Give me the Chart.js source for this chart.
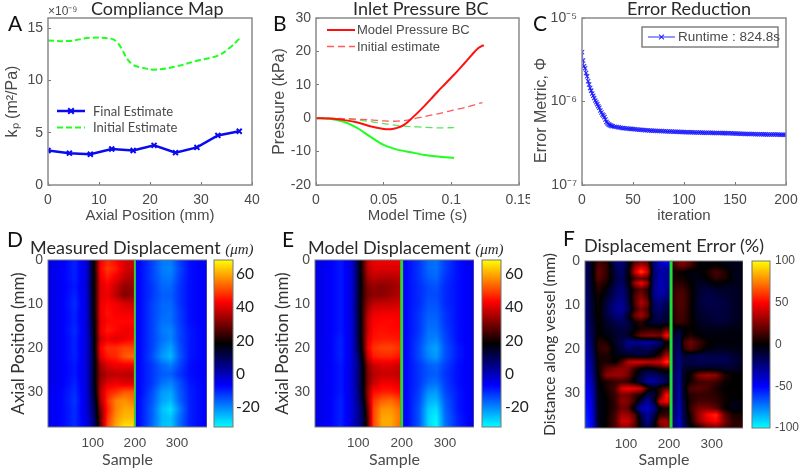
<!DOCTYPE html>
<html>
<head>
<meta charset="utf-8">
<title>Model fit panels</title>
<script src="https://cdn.jsdelivr.net/npm/chart.js@4"></script>
<style>
  html, body { margin: 0; padding: 0; background: #fff; overflow: hidden; }
  #page { position: relative; width: 800px; height: 469px; overflow: hidden; }
  canvas { position: absolute; }
  .cap { position: absolute; white-space: nowrap; transform: translateY(-50%); line-height: 1; color: #222; font-family: Lato, sans-serif; }
  .letter { font-size: 21px; color: #111; }
  .title { font-size: 18px; color: #2a2a2a; }
  .title i { font-family: "Liberation Serif", serif; font-size: 15px; }
</style>
</head>
<body>
<div id="page"></div>
<script>
// ---- Panel A: compliance map ----
const finalX = [0, 4.2, 8.3, 12.5, 16.7, 20.8, 25, 29.2, 33.3, 37.5];
const finalK = [3.3, 3.05, 2.95, 3.45, 3.3, 3.8, 3.1, 3.6, 4.75, 5.15];
const initialX = [0, 4.2, 8.3, 12.5, 13.5, 14.5, 15.5, 16.7, 18, 20.8, 25, 29.2, 33.3, 35.5, 37.5];
const initialK = [13.85, 13.8, 14.1, 14.0, 13.7, 13.0, 12.1, 11.5, 11.3, 11.05, 11.35, 11.9, 12.4, 13.1, 14.0];

// ---- Panel B: inlet pressure ----
const modelT = [0, 0.01, 0.02, 0.03, 0.04, 0.05, 0.055, 0.06, 0.065, 0.07, 0.075, 0.08, 0.085, 0.09, 0.095, 0.1, 0.105, 0.11, 0.115, 0.12, 0.124];
const modelP = [0, -0.1, -0.5, -1.2, -2.4, -3.2, -3.3, -2.9, -2, -0.3, 1.6, 3.6, 5.8, 8, 10.1, 12.2, 14.3, 16.6, 18.9, 21, 21.9];
const initT = [0, 0.02, 0.04, 0.05, 0.06, 0.07, 0.08, 0.09, 0.1, 0.11, 0.123];
const initP = [0, -0.1, -0.5, -0.8, -0.9, -0.4, 0.5, 1.3, 2.3, 3.2, 4.7];
const greenT = [0, 0.01, 0.02, 0.03, 0.04, 0.05, 0.06, 0.07, 0.08, 0.09, 0.102];
const greenP = [0, -0.2, -1, -2.8, -5.5, -8, -9.4, -10.2, -11, -11.5, -11.9];
const greenInitT = [0, 0.02, 0.03, 0.04, 0.05, 0.06, 0.07, 0.08, 0.09, 0.102];
const greenInitP = [0, -0.2, -0.5, -1, -1.6, -2.2, -2.5, -2.7, -2.9, -2.8];

// ---- Panel C: error metric (nilai dalam 1e-6) ----
const errorIter = [0,1,2,3,4,5,6,7,8,9,10,11,12,13,14,15,16,17,18,19,20,21,22,23,24,25,26,27,28,29,30,
  32,34,36,38,40,42,44,46,48,50,52,54,56,58,60,62,64,66,68,70,72,74,76,78,80,82,84,86,88,90,92,94,96,98,100,
  102,104,106,108,110,112,114,116,118,120,122,124,126,128,130,132,134,136,138,140,142,144,146,148,150,
  152,154,156,158,160,162,164,166,168,170,172,174,176,178,180,182,184,186,188,190,192,194,196,198,200];
const errorVal = [3.9,3.1,2.65,2.5,2.2,2.0,1.75,1.6,1.45,1.35,1.25,1.17,1.1,1.03,0.98,0.93,0.88,0.84,0.78,0.74,0.7,0.68,0.65,0.61,0.57,0.55,0.535,0.525,0.515,0.51,0.505,
  0.5,0.495,0.49,0.485,0.48,0.478,0.475,0.472,0.47,0.468,0.465,0.463,0.46,0.458,0.455,0.453,0.452,0.45,0.448,0.447,0.445,0.444,0.443,0.442,0.44,0.439,0.438,0.437,0.436,0.435,0.434,0.433,0.432,0.431,0.43,
  0.429,0.428,0.428,0.427,0.426,0.426,0.425,0.425,0.424,0.423,0.423,0.422,0.422,0.421,0.42,0.42,0.419,0.419,0.418,0.418,0.417,0.417,0.416,0.415,0.414,
  0.413,0.412,0.411,0.41,0.409,0.408,0.408,0.407,0.407,0.406,0.406,0.405,0.405,0.404,0.404,0.403,0.403,0.403,0.402,0.402,0.402,0.401,0.401,0.4,0.4];

// ---- Panels D, E: displacement (baris = posisi aksial, kolom = sample) ----
const depthRows = [0,2,4,6,8,10,12,14,16,18,20,22,24,26,28,30,32,34,36,38];
const measuredCols = [-7,25,58,85,98,108,118,135,155,175,198,202,215,240,265,285,305,330,371];
const measuredGrid = [
  [-4,-6,-10,-3,12,26,42,47,44,40,38,-6,-8,-13,-19,-19,-13,-8,-6],
  [-4,-6,-10,-3,12,26,43,49,46,40,37,-6,-8,-13,-19,-20,-14,-8,-6],
  [-4,-6,-10,-3,12,25,41,46,42,37,35,-6,-8,-13,-18,-19,-13,-8,-6],
  [-4,-6,-9,-3,13,25,40,43,38,33,33,-6,-8,-12,-17,-17,-12,-8,-6],
  [-4,-6,-10,-3,12,25,40,42,37,31,33,-6,-8,-12,-16,-16,-12,-8,-6],
  [-4,-6,-11,-3,12,25,41,44,42,40,38,-6,-8,-13,-17,-17,-12,-8,-6],
  [-4,-6,-10,-3,12,25,41,45,43,42,42,-6,-8,-13,-17,-18,-13,-8,-6],
  [-4,-6,-10,-3,11,24,40,44,44,44,44,-6,-8,-13,-18,-18,-13,-8,-6],
  [-4,-6,-11,-3,10,24,41,46,44,42,42,-6,-8,-13,-19,-20,-14,-9,-6],
  [-4,-6,-10,-3,9,23,38,42,40,42,44,-6,-8,-13,-18,-20,-14,-9,-6],
  [-4,-6,-10,-3,9,24,42,48,48,50,50,-6,-8,-13,-20,-23,-15,-9,-6],
  [-4,-6,-10,-3,8,22,40,46,47,52,54,-6,-8,-14,-22,-25,-16,-9,-6],
  [-4,-6,-9,-3,9,21,34,40,42,42,42,-6,-8,-12,-17,-19,-14,-8,-6],
  [-4,-6,-9,-3,9,21,32,36,37,37,36,-6,-8,-12,-16,-16,-12,-8,-6],
  [-4,-6,-10,-3,9,21,34,40,42,40,40,-6,-8,-12,-18,-20,-15,-9,-6],
  [-5,-7,-11,-3,8,20,36,46,48,52,52,-6,-8,-14,-22,-23,-16,-10,-6],
  [-5,-7,-12,-3,7,17,34,48,56,58,55,-6,-9,-15,-23,-25,-17,-10,-6],
  [-5,-7,-11,-3,6,15,30,46,56,60,60,-6,-9,-16,-26,-29,-20,-10,-6],
  [-5,-7,-11,-4,4,13,28,48,58,62,62,-6,-9,-16,-25,-26,-18,-10,-6],
  [-5,-7,-11,-4,3,12,28,50,60,66,66,-6,-9,-17,-26,-27,-18,-10,-6]
];
const modelCols = [0,30,60,85,100,112,122,135,155,175,196,203,215,240,262,280,300,330,367];
const modelGrid = [
  [-4,-6,-9,-3,12,26,38,42,42,42,42,-6,-8,-12,-17,-18,-13,-8,-5],
  [-4,-6,-9,-3,12,26,37,40,40,40,40,-6,-8,-12,-17,-18,-13,-8,-5],
  [-4,-6,-9,-3,12,25,34,37,36,36,37,-6,-8,-12,-16,-17,-12,-8,-5],
  [-4,-6,-9,-3,12,24,31,33,32,33,35,-6,-8,-11,-14,-15,-11,-8,-5],
  [-4,-6,-9,-3,12,24,30,32,32,34,36,-6,-8,-11,-14,-14,-11,-8,-5],
  [-4,-6,-9,-3,12,25,33,37,38,38,39,-6,-8,-11,-15,-15,-11,-8,-5],
  [-4,-6,-9,-3,12,26,36,41,42,42,42,-6,-8,-12,-16,-16,-12,-8,-5],
  [-4,-6,-9,-3,11,26,38,43,44,44,43,-6,-8,-12,-17,-17,-12,-8,-5],
  [-4,-6,-9,-3,11,26,38,44,45,44,44,-6,-8,-12,-18,-18,-13,-8,-5],
  [-4,-6,-10,-3,11,26,40,45,46,46,45,-6,-8,-13,-19,-20,-14,-8,-5],
  [-4,-6,-10,-3,10,25,42,48,50,50,48,-6,-8,-14,-21,-23,-15,-9,-5],
  [-4,-6,-10,-3,8,22,38,46,47,47,45,-6,-8,-14,-20,-22,-15,-9,-5],
  [-4,-6,-9,-3,6,19,32,38,40,40,38,-6,-8,-12,-16,-17,-13,-8,-5],
  [-4,-6,-9,-3,7,18,30,36,38,38,37,-6,-8,-12,-15,-16,-12,-8,-5],
  [-4,-6,-9,-3,7,18,31,38,42,42,40,-6,-8,-12,-17,-18,-13,-8,-5],
  [-4,-6,-9,-3,6,18,33,44,46,46,44,-6,-8,-13,-21,-22,-14,-9,-5],
  [-4,-6,-10,-3,5,16,32,48,53,54,50,-6,-8,-14,-24,-25,-16,-9,-5],
  [-4,-6,-10,-3,4,13,28,50,58,58,54,-6,-8,-15,-27,-29,-17,-9,-5],
  [-4,-6,-10,-3,4,12,27,50,60,60,55,-6,-8,-15,-28,-31,-18,-10,-5],
  [-4,-6,-10,-3,3,11,26,50,60,60,54,-6,-8,-15,-28,-32,-18,-10,-5]
];

// ---- Panel F: displacement error ----
const errorRows = [0,1,2.5,4,5,6.5,8,9.5,11,12.5,14,15.5,17,18.5,20,21.5,23,24.5,26,27.5,29,30.5,32,33.5,35,36.5,38];
const errorCols = [4,20,35,55,75,90,105,120,135,150,165,180,195,203,208,225,235,250,270,290,310,330,350,374];
const errorGrid = [
  [-20,-4,12,6,-22,-25,-10,12,22,15,-25,-40,-55,-45,12,25,25,18,0,-3,0,-5,-5,-5],
  [-20,-4,16,10,-18,-22,-6,25,35,25,-25,-35,-35,-30,8,22,22,14,0,-2,2,-4,-5,-5],
  [-22,-5,20,10,-14,-20,-4,38,65,42,-22,-32,-30,-25,4,2,0,-3,-3,5,14,8,-4,-5],
  [-22,-5,18,8,-12,-18,-3,12,18,12,-22,-35,-30,-25,4,4,3,-2,-4,0,10,6,-4,-5],
  [-24,-6,12,4,-14,-20,-5,30,50,30,-25,-36,-30,-25,6,8,6,0,-6,-5,0,-2,-5,-5],
  [-24,-7,8,-3,-18,-24,-10,8,18,8,-25,-35,-30,-22,8,14,12,3,-9,-12,-8,-8,-8,-5],
  [-26,-8,4,-8,-20,-25,-12,15,26,12,-26,-32,-26,-18,8,16,14,4,-10,-14,-12,-10,-8,-5],
  [-27,-9,3,-12,-25,-28,-14,14,35,22,-20,-24,-16,-10,8,16,14,3,-10,-14,-14,-12,-8,-5],
  [-28,-10,3,-14,-28,-30,-18,10,25,14,-18,-20,-14,-8,7,15,13,3,-9,-12,-13,-12,-8,-5],
  [-28,-10,2,-12,-22,-24,-6,20,32,18,-14,-16,-10,-5,6,14,12,3,-8,-10,-12,-12,-8,-5],
  [-30,-12,2,-8,-14,-18,-14,0,8,-6,-12,-12,-8,-5,4,12,10,3,-6,-8,-10,-10,-6,-5],
  [-31,-14,0,-5,-10,-12,-10,-2,5,8,8,5,20,15,-5,-6,-3,1,-3,-5,-4,-4,-3,-3],
  [-32,-15,2,-3,-8,-12,-8,8,22,25,26,22,55,40,-8,-14,0,6,0,-3,-2,-2,-2,-2],
  [-35,-18,8,5,-8,-14,-28,-28,-30,-32,-28,-22,0,0,-10,-18,12,22,12,2,-2,-2,-2,-2],
  [-37,-20,8,12,-5,-12,-20,-15,-15,-18,-12,-4,12,8,-11,-20,8,18,8,-2,-4,-5,-4,-3],
  [-39,-23,4,6,-3,-5,-6,-10,-12,-8,-3,10,35,28,-12,-22,-10,-12,-14,-14,-14,-14,-10,-5],
  [-41,-26,3,5,0,15,36,42,42,38,38,42,62,50,-12,-24,-14,-14,-16,-16,-16,-16,-12,-6],
  [-43,-28,2,18,25,28,25,10,0,-5,0,5,10,8,-13,-25,-8,-6,-6,-6,-6,-8,-8,-4],
  [-45,-30,0,28,30,30,22,2,-12,-20,-22,-15,-10,-8,-15,-27,-5,2,26,32,28,8,0,0],
  [-47,-34,-2,6,10,12,8,-3,-15,-30,-30,-25,-15,-8,-15,-28,-6,3,12,15,12,3,0,0],
  [-50,-38,-4,5,15,42,48,46,38,10,-5,8,20,14,-15,-30,-5,15,18,14,5,0,0,0],
  [-52,-40,-4,2,12,25,22,12,5,-15,-10,15,55,40,-15,-31,-6,8,10,10,8,2,0,0],
  [-55,-42,-5,0,10,28,25,10,-15,-30,-12,40,50,35,-15,-32,-10,6,14,14,10,3,-3,-2],
  [-57,-44,-5,0,10,22,18,-10,-35,-38,-28,0,5,3,-17,-34,-12,10,24,25,18,2,-5,-3],
  [-58,-46,-5,1,14,32,30,18,-15,-30,-15,8,12,8,-18,-36,-14,5,30,50,58,20,5,4],
  [-60,-48,-6,2,15,40,40,22,-8,-28,-8,30,32,20,-19,-38,-16,2,28,42,50,25,8,8],
  [-60,-50,-8,2,15,28,28,15,-5,-15,-5,20,30,22,-20,-40,-20,-5,5,18,22,15,8,10]
];

// tick labels
const ticksAx = [0, 10, 20, 30, 40];
const ticksAy = [0, 5, 10, 15];
const ticksBx = [0, 0.05, 0.1, 0.15];
const ticksBy = [-20, -10, 0, 10, 20, 30];
const ticksCx = [0, 50, 100, 150, 200];
const ticksCy = [1e-7, 1e-6, 1e-5];
const sampleTicks = [100, 200, 300];
const depthTicks = [0, 10, 20, 30];
const dispBarTicks = [-20, 0, 20, 40, 60];
const errorBarTicks = [-100, -50, 0, 50, 100];
const wallSample = [200, 200];
const wallSampleF = [205, 205];
const wallDepth = [0, 38];

const stops = [[0,255,255],[0,0,255],[0,0,0],[255,0,0],[255,255,0]];

const GRAY = "#4a4a4a";
const SANS = "'Liberation Sans', sans-serif";
const CALI = "Lato, sans-serif";
const BLUE = "#0a0af0";
const GREEN = "#1eff1e";
const RED = "#ff1010";

const pairs = (xs, ys) => xs.map((x, i) => ({ x, y: ys[i] }));

function colorAt(t) {
  t = Math.max(0, Math.min(1, t)) * (stops.length - 1);
  const i = Math.min(stops.length - 2, Math.floor(t));
  const f = t - i;
  return stops[i].map((c, k) => c + (stops[i + 1][k] - c) * f);
}

function lookup(list, v) {
  let i = 0;
  while (i < list.length - 2 && list[i + 1] < v) i++;
  const f = Math.max(0, Math.min(1, (v - list[i]) / (list[i + 1] - list[i])));
  return [i, f];
}

// ---- Heatmap, digambar lewat skala chart ----
function heatPlugin(rows, cols, grid, min, max) {
  return {
    id: "heatmap",
    beforeDatasetsDraw(chart) {
      const { left, top, width, height } = chart.chartArea;
      const sx = chart.scales.x, sy = chart.scales.y;
      const off = document.createElement("canvas");
      off.width = width; off.height = height;
      const octx = off.getContext("2d");
      const img = octx.createImageData(width, height);
      for (let py = 0; py < height; py++) {
        const [r, fr] = lookup(rows, sy.getValueForPixel(top + py + 0.5));
        for (let px = 0; px < width; px++) {
          const [c, fc] = lookup(cols, sx.getValueForPixel(left + px + 0.5));
          const a = grid[r][c] * (1 - fc) + grid[r][c + 1] * fc;
          const b = grid[r + 1][c] * (1 - fc) + grid[r + 1][c + 1] * fc;
          const rgb = colorAt(((a * (1 - fr) + b * fr) - min) / (max - min));
          const o = (py * width + px) * 4;
          img.data[o] = rgb[0]; img.data[o + 1] = rgb[1]; img.data[o + 2] = rgb[2]; img.data[o + 3] = 255;
        }
      }
      octx.putImageData(img, 0, 0);
      chart.ctx.drawImage(off, left, top);
    }
  };
}

const framePlugin = {
  id: "frame",
  afterDatasetsDraw(chart, args, opts) {
    const { left, top, width, height } = chart.chartArea;
    const ctx = chart.ctx;
    ctx.save();
    ctx.strokeStyle = opts.color;
    ctx.lineWidth = opts.width;
    ctx.strokeRect(left, top, width, height);
    ctx.restore();
  }
};

// legend di dalam plot, seperti di MATLAB
const lineLegend = {
  id: "lineLegend",
  afterDraw(chart, args, o) {
    if (!o.items) return;
    const ctx = chart.ctx;
    ctx.save();
    if (o.box) {
      ctx.fillStyle = "#fff";
      ctx.strokeStyle = "#808080";
      ctx.lineWidth = 1.5;
      ctx.fillRect(o.box[0], o.box[1], o.box[2], o.box[3]);
      ctx.strokeRect(o.box[0], o.box[1], o.box[2], o.box[3]);
    }
    ctx.font = o.font;
    ctx.textBaseline = "middle";
    o.items.forEach((idx, i) => {
      const ds = chart.data.datasets[idx];
      const y = o.y + i * o.gap;
      ctx.strokeStyle = ds.borderColor;
      ctx.lineWidth = ds.borderWidth;
      ctx.setLineDash(ds.borderDash || []);
      ctx.beginPath();
      ctx.moveTo(o.x, y);
      ctx.lineTo(o.x + o.sample, y);
      ctx.stroke();
      ctx.setLineDash([]);
      if (ds.pointRadius) {
        const mid = o.x + o.sample / 2, r = ds.pointRadius * 0.8;
        ctx.lineWidth = ds.pointBorderWidth || 1;
        ctx.beginPath();
        ctx.moveTo(mid - r, y - r); ctx.lineTo(mid + r, y + r);
        ctx.moveTo(mid - r, y + r); ctx.lineTo(mid + r, y - r);
        ctx.stroke();
      }
      ctx.fillStyle = o.color;
      ctx.fillText(ds.label, o.x + o.sample + o.textGap, y + 0.5);
    });
    ctx.restore();
  }
};

const page = document.getElementById("page");

function addCanvas(box) {
  const c = document.createElement("canvas");
  c.width = box.w; c.height = box.h;
  c.style.left = box.x + "px"; c.style.top = box.y + "px";
  page.appendChild(c);
  return c;
}

// sumbu dengan tick ke dalam dan ukuran kotak tetap
function xAxis(cfg) {
  return {
    type: cfg.type || "linear", min: cfg.min, max: cfg.max,
    title: { display: true, text: cfg.title, color: cfg.titleColor || GRAY, font: cfg.titleFont, padding: 0 },
    grid: { display: true, drawOnChartArea: false, tickLength: -3, color: "#777" },
    border: { display: false },
    ticks: { color: cfg.color || GRAY, font: cfg.font, padding: cfg.pad, autoSkip: false, maxRotation: 0, callback: v => String(v) },
    afterBuildTicks: s => { s.ticks = cfg.ticks.map(value => ({ value })); },
    afterFit: s => { s.height = cfg.size; s.paddingLeft = 0; s.paddingRight = 0; }
  };
}

function yAxis(cfg) {
  return {
    type: cfg.type || "linear", min: cfg.min, max: cfg.max, reverse: !!cfg.reverse,
    title: { display: true, text: cfg.title, color: cfg.titleColor || GRAY, font: cfg.titleFont, padding: 0 },
    grid: { display: true, drawOnChartArea: false, tickLength: -3, color: "#777" },
    border: { display: false },
    ticks: { color: cfg.color || GRAY, font: cfg.font, padding: cfg.pad, autoSkip: false, callback: cfg.label || (v => String(v)) },
    afterBuildTicks: s => { s.ticks = cfg.ticks.map(value => ({ value })); },
    afterFit: s => { s.width = cfg.size; s.paddingTop = 0; s.paddingBottom = 0; }
  };
}

function baseOptions(padding, scales, plugins) {
  return {
    responsive: false, animation: false, events: [],
    layout: { padding },
    scales,
    plugins: Object.assign({ legend: { display: false }, title: { display: false }, tooltip: { enabled: false } }, plugins)
  };
}

const supers = { "-5": "10\u207B\u2075", "-6": "10\u207B\u2076", "-7": "10\u207B\u2077" };

// ---- Panel A ----
new Chart(addCanvas({ x: 3, y: 0, w: 259, h: 225 }), {
  type: "scatter",
  data: { datasets: [
    { label: "Final Estimate", data: pairs(finalX, finalK), showLine: true, borderColor: BLUE, borderWidth: 2.5,
      pointStyle: "crossRot", pointRadius: 3.5, pointBorderColor: BLUE, pointBorderWidth: 2, tension: 0 },
    { label: "Initial Estimate", data: pairs(initialX, initialK), showLine: true, borderColor: GREEN, borderWidth: 2,
      borderDash: [6, 3], pointRadius: 0, tension: 0.4 }
  ] },
  options: baseOptions({ top: 18, right: 10 }, {
    x: xAxis({ min: 0, max: 40, ticks: ticksAx, title: "Axial Position (mm)", titleFont: { family: SANS, size: 15 }, font: { family: SANS, size: 14 }, pad: 10, size: 40 }),
    y: yAxis({ min: 0, max: 16, ticks: ticksAy, title: "k\u209A (m\u00B2/Pa)", titleFont: { family: SANS, size: 16 }, font: { family: SANS, size: 14 }, pad: 8, size: 45 })
  }, {
    frame: { color: "#8a8a8a", width: 1.5 },
    lineLegend: { items: [0, 1], x: 54, y: 111, gap: 16.5, sample: 28, textGap: 8, font: "13px " + CALI, color: GRAY }
  }),
  plugins: [framePlugin, lineLegend]
});

// ---- Panel B ----
new Chart(addCanvas({ x: 270, y: 0, w: 260, h: 225 }), {
  type: "scatter",
  data: { datasets: [
    { label: "Model Pressure BC", data: pairs(modelT, modelP), showLine: true, borderColor: RED, borderWidth: 2, pointRadius: 0, tension: 0.3 },
    { label: "Initial estimate", data: pairs(initT, initP), showLine: true, borderColor: "#ff5a5a", borderWidth: 1.3, borderDash: [7, 4], pointRadius: 0, tension: 0.3 },
    { label: "", data: pairs(greenT, greenP), showLine: true, borderColor: GREEN, borderWidth: 2, pointRadius: 0, tension: 0.3 },
    { label: "", data: pairs(greenInitT, greenInitP), showLine: true, borderColor: "#55e855", borderWidth: 1.3, borderDash: [7, 4], pointRadius: 0, tension: 0.3 }
  ] },
  options: baseOptions({ top: 18, right: 11 }, {
    x: xAxis({ min: 0, max: 0.15, ticks: ticksBx, title: "Model Time (s)", titleFont: { family: SANS, size: 15 }, font: { family: SANS, size: 14 }, pad: 10, size: 40 }),
    y: yAxis({ min: -20, max: 30, ticks: ticksBy, title: "Pressure (kPa)", titleFont: { family: SANS, size: 16 }, font: { family: SANS, size: 14 }, pad: 8, size: 46 })
  }, {
    frame: { color: "#8a8a8a", width: 1.5 },
    lineLegend: { items: [0, 1], x: 57, y: 30, gap: 16.5, sample: 28, textGap: 2, font: "13px " + SANS, color: GRAY }
  }),
  plugins: [framePlugin, lineLegend]
});

// ---- Panel C ----
new Chart(addCanvas({ x: 532, y: 0, w: 268, h: 225 }), {
  type: "scatter",
  data: { datasets: [
    { label: "Runtime : 824.8s", data: errorIter.map((x, i) => ({ x, y: errorVal[i] * 1e-6 })), showLine: true,
      borderColor: "rgba(20,20,255,0.9)", borderWidth: 1, pointStyle: "crossRot", pointRadius: 3,
      pointBorderColor: "rgba(20,20,255,0.85)", pointBorderWidth: 1.1, tension: 0 }
  ] },
  options: baseOptions({ top: 18, right: 14 }, {
    x: xAxis({ min: 0, max: 200, ticks: ticksCx, title: "iteration", titleFont: { family: SANS, size: 15 }, font: { family: SANS, size: 14 }, pad: 10, size: 40 }),
    y: yAxis({ type: "logarithmic", min: 1e-7, max: 1e-5, ticks: ticksCy, title: "Error Metric, \u03A6    ", titleFont: { family: SANS, size: 16 }, font: { family: SANS, size: 14 }, pad: 8, size: 50,
      label: v => supers[String(Math.round(Math.log10(v)))] })
  }, {
    frame: { color: "#8a8a8a", width: 1.5 },
    lineLegend: { items: [0], x: 116, y: 37, gap: 0, sample: 27, textGap: 3, font: "13.5px " + SANS, color: GRAY, box: [110, 27, 136, 20] }
  }),
  plugins: [framePlugin, lineLegend]
});

// ---- Panels D, E, F ----
function heatChart(spec) {
  new Chart(addCanvas(spec.box), {
    type: "scatter",
    data: { datasets: [
      { label: "wall", data: pairs(spec.wall, wallDepth), showLine: true, borderColor: spec.wallColor, borderWidth: spec.wallWidth, pointRadius: 0 }
    ] },
    options: baseOptions({ top: spec.top, right: spec.right }, {
      x: xAxis({ min: spec.xMin, max: spec.xMax, ticks: sampleTicks, title: "Sample", titleFont: { family: CALI, size: 16 }, font: { family: SANS, size: 13.5 }, pad: 11, size: spec.bottom }),
      y: yAxis({ min: 0, max: 38, reverse: true, ticks: depthTicks, title: spec.yTitle, titleColor: "#333", titleFont: { family: CALI, size: spec.yTitleSize }, font: { family: SANS, size: 14 }, pad: 8, size: spec.axis })
    }, { frame: { color: "#777", width: 1 } }),
    plugins: [heatPlugin(spec.rows, spec.cols, spec.grid, spec.min, spec.max), framePlugin]
  });
}

function colorBar(spec) {
  new Chart(addCanvas(spec.box), {
    type: "bar",
    data: { labels: [""], datasets: [{
      data: [[spec.min, spec.max]], barPercentage: 1, categoryPercentage: 1, borderSkipped: false,
      backgroundColor: ctx => {
        const area = ctx.chart.chartArea;
        if (!area) return "#000";
        const g = ctx.chart.ctx.createLinearGradient(0, area.bottom, 0, area.top);
        stops.forEach((s, i) => g.addColorStop(i / (stops.length - 1), "rgb(" + s.join(",") + ")"));
        return g;
      }
    }] },
    options: baseOptions({ left: spec.left, top: spec.top, bottom: spec.bottom }, {
      x: { display: false },
      y: {
        position: "right", min: spec.min, max: spec.max,
        grid: { display: false, drawTicks: false }, border: { display: false },
        ticks: { color: spec.color, font: spec.font, padding: spec.pad, autoSkip: false, callback: v => String(v) },
        afterBuildTicks: s => { s.ticks = spec.ticks.map(value => ({ value })); },
        afterFit: s => { s.width = spec.axis; s.paddingTop = 0; s.paddingBottom = 0; }
      }
    }, { frame: { color: "#777", width: 1 } }),
    plugins: [framePlugin]
  });
}

heatChart({ box: { x: 8, y: 250, w: 199, h: 219 }, top: 10, right: 0, bottom: 42, axis: 40, xMin: -6, xMax: 371,
  rows: depthRows, cols: measuredCols, grid: measuredGrid, min: -32, max: 68.6, wall: wallSample, wallColor: "#39cf33", wallWidth: 2,
  yTitle: "Axial Position (mm)", yTitleSize: 17 });
heatChart({ box: { x: 272, y: 250, w: 202, h: 219 }, top: 10, right: 0, bottom: 42, axis: 43, xMin: 0, xMax: 367,
  rows: depthRows, cols: modelCols, grid: modelGrid, min: -32, max: 68.6, wall: wallSample, wallColor: "#39cf33", wallWidth: 3,
  yTitle: "Axial Position (mm)", yTitleSize: 17 });
heatChart({ box: { x: 541, y: 250, w: 202, h: 219 }, top: 11, right: 0, bottom: 41, axis: 44, xMin: 4, xMax: 373,
  rows: errorRows, cols: errorCols, grid: errorGrid, min: -100, max: 100, wall: wallSampleF, wallColor: "#1fdc3a", wallWidth: 3,
  yTitle: "Distance along vessel (mm)", yTitleSize: 15.5 });

colorBar({ box: { x: 210, y: 250, w: 56, h: 190 }, left: 4, top: 10, bottom: 13, axis: 33, pad: 3, min: -32, max: 68.6,
  ticks: dispBarTicks, font: { family: CALI, size: 15.5 }, color: "#222" });
colorBar({ box: { x: 478, y: 250, w: 60, h: 190 }, left: 4, top: 10, bottom: 13, axis: 37, pad: 4, min: -32, max: 68.6,
  ticks: dispBarTicks, font: { family: CALI, size: 15.5 }, color: "#222" });
colorBar({ box: { x: 748, y: 250, w: 52, h: 190 }, left: 4, top: 11, bottom: 12, axis: 30, pad: 5, min: -100, max: 100,
  ticks: errorBarTicks, font: { family: SANS, size: 12 }, color: GRAY });

// ---- Huruf panel dan judul ----
const captions = [
  ["letter", "A", 8, 22], ["letter", "B", 273, 22], ["letter", "C", 533, 22],
  ["letter", "D", 7, 238], ["letter", "E", 282, 238], ["letter", "F", 563, 237],
  ["title", "Compliance Map", 91, 8], ["title", "Inlet Pressure BC", 353, 8], ["title", "Error Reduction", 627, 8],
  ["title", "Measured Displacement <i>(\u03BCm)</i>", 30, 247],
  ["title", "Model Displacement <i>(\u03BCm)</i>", 308, 247],
  ["title", "Displacement Error (%)", 584, 245]
];
captions.forEach(([cls, text, x, y]) => {
  const d = document.createElement("div");
  d.className = "cap " + cls;
  d.innerHTML = text;
  d.style.left = x + "px"; d.style.top = y + "px";
  page.appendChild(d);
});
const scaleNote = document.createElement("div");
scaleNote.className = "cap";
scaleNote.textContent = "\u00D710\u207B\u2079";
scaleNote.style.cssText = "left:48px;top:11px;font-size:12px;color:#4a4a4a;font-family:" + SANS;
page.appendChild(scaleNote);
</script>
</body>
</html>
